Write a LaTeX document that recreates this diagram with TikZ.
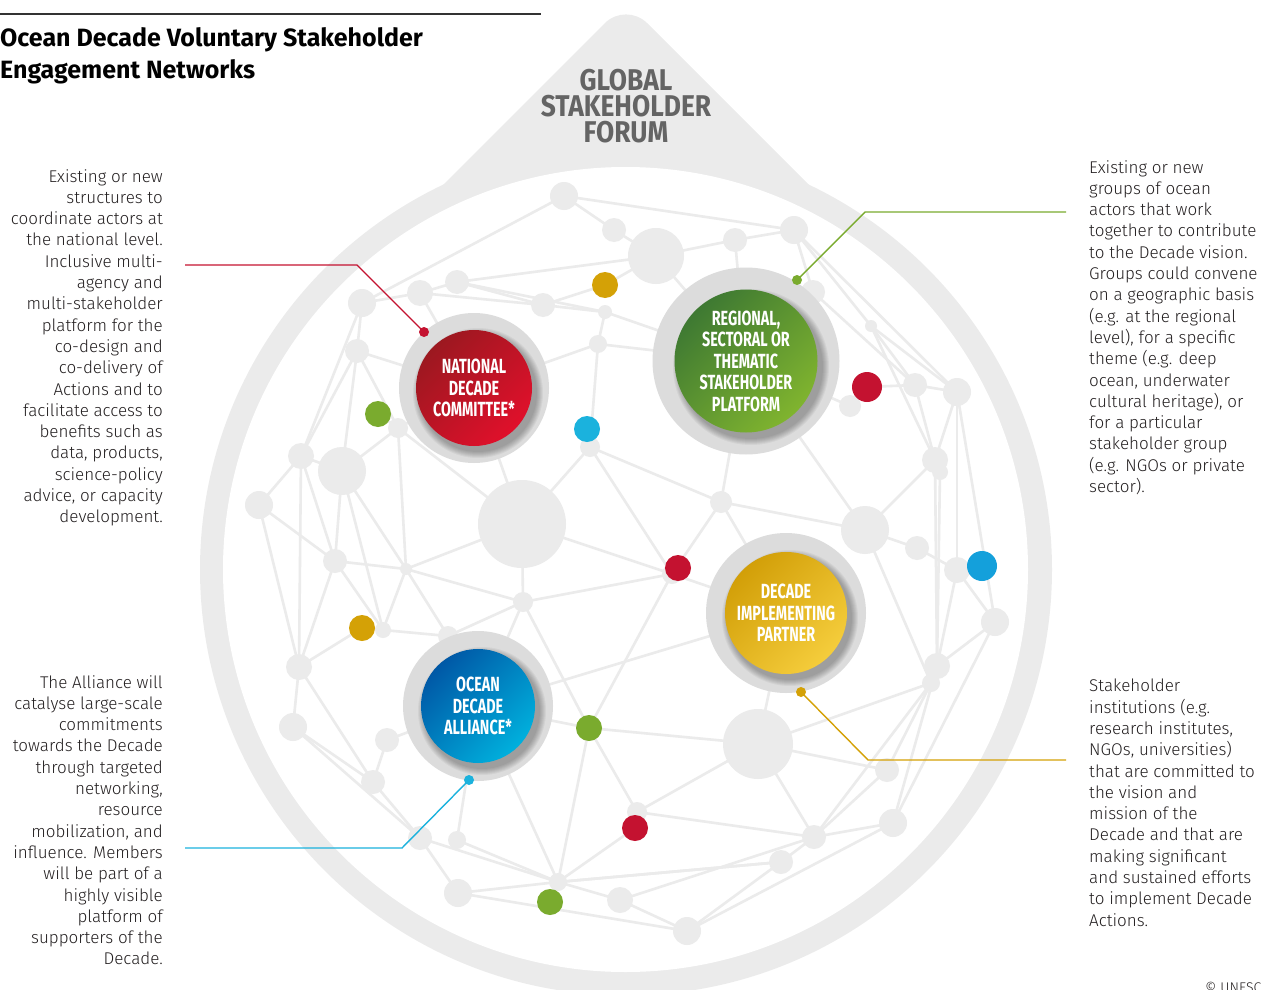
\documentclass[tikz,border=0pt]{standalone}
\usepackage{fontspec}
\usetikzlibrary{calc}
\newfontfamily\bodyfont{Fira Sans Light}
\newfontfamily\titlefont{Fira Sans}
\newfontfamily\condfont{Fira Sans}[FakeStretch=0.7]
\newfontfamily\forumfont{Fira Sans}[FakeStretch=0.88]
\definecolor{ringgray}{HTML}{EBEBEB}
\definecolor{netgray}{HTML}{EBEBEB}
\definecolor{halogray}{HTML}{DCDCDC}
\definecolor{forumgray}{HTML}{646464}
\definecolor{txt}{HTML}{231F20}
\definecolor{cred}{HTML}{C41230}
\definecolor{cgreen}{HTML}{7AAB2E}
\definecolor{cgold}{HTML}{D4A106}
\definecolor{ccyan}{HTML}{1BB2DD}
\definecolor{cblue}{HTML}{14A0DB}
\definecolor{redA}{HTML}{9C1820}
\definecolor{redB}{HTML}{E0102B}
\definecolor{greenA}{HTML}{3E7932}
\definecolor{greenB}{HTML}{80B42F}
\definecolor{goldA}{HTML}{D29F08}
\definecolor{goldB}{HTML}{F5CD3C}
\definecolor{blueA}{HTML}{0058A6}
\definecolor{blueB}{HTML}{00B0DD}
\tikzset{
  gnode/.style={circle, fill=netgray, inner sep=0pt, outer sep=0pt},
  cdot/.style={circle, inner sep=0pt, outer sep=0pt, minimum size=26pt},
  edge/.style={draw=netgray, line width=2.6pt},
  halo/.style={circle, fill=halogray, inner sep=0pt, outer sep=0pt},
  shadowfill/.style={fill=black, opacity=0.045},
  inner/.style={circle, inner sep=0pt, outer sep=0pt, text=white, align=center,
    font=\condfont\bfseries\fontsize{20.5}{21.5}\selectfont},
  enddot/.style={circle, inner sep=0pt, minimum size=10pt},
  callout/.style={line width=1.4pt},
  bodytext/.style={inner sep=0pt, text=txt, font=\bodyfont\fontsize{17}{21.3}\selectfont}
}
\begin{document}
\begin{tikzpicture}[x=1pt,y=-1pt]
\useasboundingbox (0,0) rectangle (1261,990);
% ring and forum
\fill[ringgray] (626,569.5) circle[radius=426];
\fill[ringgray, rounded corners=30pt] (322,306) -- (626,2) -- (930,306) -- cycle;
\fill[white] (625.5,569.5) circle[radius=402.5];
\node[text=forumgray, align=center, inner sep=0pt, font=\forumfont\bfseries\fontsize{30}{26}\selectfont] (gsf) at (626,106) {GLOBAL\\STAKEHOLDER\\FORUM};
% title
\coordinate (tl1) at (0,14); \coordinate (tl2) at (541,14);
\draw[draw=black!80, line width=1.3pt] (tl1) -- (tl2);
\node[anchor=north west, inner sep=0pt, align=left, font=\titlefont\bfseries\fontsize{25}{32}\selectfont] (title) at (0,27) {Ocean Decade Voluntary Stakeholder\\Engagement Networks};
% network positions
\def\graylist{a1/564/196/14, a2/614/230/12, a3/656/256/28, a4/735/240/12, a5/794/230/14,
  a6/457/282/12, a7/420/293/13, a8/362/303/14, a9/543/305/12, a10/605/312/7, a11/598/344/9,
  a12/357/351/12, a13/813/292/12, a14/871/326/6, a15/915/385/12, a16/957/392/14, a17/850/406/11,
  a18/398/428/10, a19/342/471/24, a20/301/456/13, a21/259/505/14, a22/522/524/44, a23/590/447/10,
  a24/721/502/11, a25/865/530/24, a26/917/548/12, a27/935/460/13, a28/940/472/8, a29/335/561/12,
  a30/406/569/6, a31/523/602/10, a32/383/630/8, a32b/448/636/10, a33/995/622/14, a34/937/666/13,
  a35/931/683/9, a36/299/667/13, a37/293/727/14, a38/387/740/12, a39/758/744/35, a40/373/782/12,
  a41/420/838/12, a41b/457/840/9, a42/458/893/14, a43/558/882/9, a44/620/900/13, a45/687/931/14,
  a46/781/862/12, a47/814/837/12, a48/893/823/14, a49/887/770/12, a50/637/812/10, a51/672/574/10,
  a52/957/570/13}
\def\dotlist{g1/605/285/13/cgold, g2/362/628/13/cgold, gr1/378/414/13/cgreen, gr2/589/728/13/cgreen,
  gr3/550/902/13/cgreen, c1/587/429/13/ccyan, c2/982/566/15/cblue, r1/867/387/15/cred,
  r2/678/568/13/cred, r3/635/828/13/cred}
\foreach \n/\x/\y/\r in \graylist \coordinate (\n) at (\x,\y);
\foreach \n/\x/\y/\r/\c in \dotlist \coordinate (\n) at (\x,\y);
\coordinate (ndcC) at (474,388);
\coordinate (rspC) at (746,361);
\coordinate (dipC) at (786,613);
\coordinate (odaC) at (478,706);
% edges
\foreach \u/\v in {a1/a2, a1/a5, a1/a8, a2/a3, a3/a4, a4/a5, a5/a13, a5/a14, a5/a16, a3/rspC, a4/rspC,
  a6/a3, a7/a6, a8/a7, a6/a9, a7/a9, a9/g1, g1/a3, a9/a10, a10/a11, a10/rspC, a11/rspC, a11/ndcC, a11/a23,
  a8/a12, a12/ndcC, a12/a20, a12/a18, a7/ndcC, a8/a20, a12/a19, a6/a10,
  a14/a15, a14/a16, a14/a27, a13/a15, r1/a15, a15/a16, a17/r1, a17/rspC, a16/a27, a16/a52, a16/a33,
  a15/a27, a27/a34, a28/a34, a25/a27, a25/a26, a26/a52, a52/c2, a52/a33, a52/a34, a33/a34, a33/a48,
  a34/a48, a25/a35, rspC/a25, a24/rspC, a24/a25, a24/a51, a24/dipC, a23/a24, a23/c1, a23/a22, a23/a51,
  a22/a51, a31/a51, a51/dipC, a51/gr2, a22/ndcC, a22/a18, a22/a30, a22/a31, a31/a30, a31/a32b, a31/gr2, a31/odaC,
  dipC/a39, a39/a35, a39/a49, a39/a47, a39/a50, a39/gr2, a50/a47, a50/gr2, a47/a49, a47/a48, a47/a35,
  a47/a46, a47/a44, a46/a43, a46/a45, a48/a45, a44/a45, a49/a35, a34/a35, dipC/odaC,
  a37/a40, a37/a41, a37/a36, a36/a40, a38/a40, a38/odaC, a40/a41, a41/a42, a41b/odaC, a41/a43, a41b/a43,
  a42/a43, a42/a45, a43/gr2, a43/a46, a43/a44, a43/r3, a43/odaC, gr2/odaC, r3/a50, gr3/a43,
  a20/a19, a20/a21, a19/a18, a19/a29, a19/a32, a19/a30, a21/a29, a21/a36, a20/a36, a20/a29, a18/a30,
  a29/a30, a29/a32, a29/a36, a30/a32, a30/a32b, a32/a32b, g2/a32, g2/a36, a18/gr1, a32b/odaC, a18/ndcC}
  \draw[edge] (\u) -- (\v);
% nodes
\foreach \n/\x/\y/\r in \graylist \node[gnode, minimum size={2*\r*1pt}] (n\n) at (\n) {};
\foreach \n/\x/\y/\r/\c in \dotlist \node[cdot, fill=\c, minimum size={2*\r*1pt}] (n\n) at (\n) {};
% big circles: halos
\node[halo, minimum size=150pt] (ndc) at (ndcC) {};
\node[halo, minimum size=187pt] (rsp) at (rspC) {};
\node[halo, minimum size=160pt] (dip) at (dipC) {};
\node[halo, minimum size=150pt] (oda) at (odaC) {};
% soft shadows
\foreach \k in {0,...,6} {
  \fill[shadowfill] ($(ndcC)+(4,5)$) circle[radius={58+7-\k}];
  \fill[shadowfill] ($(rspC)+(5,6)$) circle[radius={71+7-\k}];
  \fill[shadowfill] ($(dipC)+(4,5)$) circle[radius={61+7-\k}];
  \fill[shadowfill] ($(odaC)+(4,5)$) circle[radius={57+7-\k}];
}
% inner circles
\node[inner, minimum size=116pt, top color=redA, bottom color=redB, shading angle=45] (ndci) at (ndcC) {NATIONAL\\DECADE\\COMMITTEE*};
\node[inner, minimum size=143pt, top color=greenA, bottom color=greenB, shading angle=45] (rspi) at (rspC) {REGIONAL,\\SECTORAL OR\\THEMATIC\\STAKEHOLDER\\PLATFORM};
\node[inner, minimum size=122pt, top color=goldA, bottom color=goldB, shading angle=45] (dipi) at (dipC) {DECADE\\IMPLEMENTING\\PARTNER};
\node[inner, minimum size=114pt, top color=blueA, bottom color=blueB, shading angle=45] (odai) at (odaC) {OCEAN\\DECADE\\ALLIANCE*};
% callouts
\node[enddot, fill=cred] (ndcdot) at (424,332) {};
\coordinate (ndcA) at (185,265); \coordinate (ndcB) at (357,265);
\draw[callout, draw=cred] (ndcA) -- (ndcB) -- (ndcdot.center);
\node[enddot, fill=cgreen] (rspdot) at (797,280) {};
\coordinate (rspA) at (1066,212); \coordinate (rspB) at (865,212);
\draw[callout, draw=cgreen] (rspA) -- (rspB) -- (rspdot.center);
\node[enddot, fill=ccyan] (odadot) at (469,780) {};
\coordinate (odaA) at (185,848); \coordinate (odaB) at (402,848);
\draw[callout, draw=ccyan] (odaA) -- (odaB) -- (odadot.center);
\node[enddot, fill=cgold] (dipdot) at (801,692) {};
\coordinate (dipA) at (1066,760); \coordinate (dipB) at (868,760);
\draw[callout, draw=cgold] (dipA) -- (dipB) -- (dipdot.center);
% texts
\node[bodytext, anchor=north east, align=right] (tndc) at (163,169) {Existing or new\\structures to\\coordinate actors at\\the national level.\\Inclusive multi-\\agency and\\multi-stakeholder\\platform for the\\co-design and\\co-delivery of\\Actions and to\\facilitate access to\\benefits such as\\data, products,\\science-policy\\advice, or capacity\\development.};
\node[bodytext, anchor=north east, align=right] (toda) at (163,675) {The Alliance will\\catalyse large-scale\\commitments\\towards the Decade\\through targeted\\networking,\\resource\\mobilization, and\\influence. Members\\will be part of a\\highly visible\\platform of\\supporters of the\\Decade.};
\node[bodytext, anchor=north west, align=left] (trsp) at (1089,160) {Existing or new\\groups of ocean\\actors that work\\together to contribute\\to the Decade vision.\\Groups could convene\\on a geographic basis\\(e.g. at the regional\\level), for a specific\\theme (e.g. deep\\ocean, underwater\\cultural heritage), or\\for a particular\\stakeholder group\\(e.g. NGOs or private\\sector).};
\node[bodytext, anchor=north west, align=left] (tdip) at (1089,679) {Stakeholder\\institutions (e.g.\\research institutes,\\NGOs, universities)\\that are committed to\\the vision and\\mission of the\\Decade and that are\\making significant\\and sustained efforts\\to implement Decade\\Actions.};
\node[bodytext, anchor=north west, font=\bodyfont\fontsize{14}{15}\selectfont] (copy) at (1205,982) {© UNESCO};
\end{tikzpicture}
\end{document}
